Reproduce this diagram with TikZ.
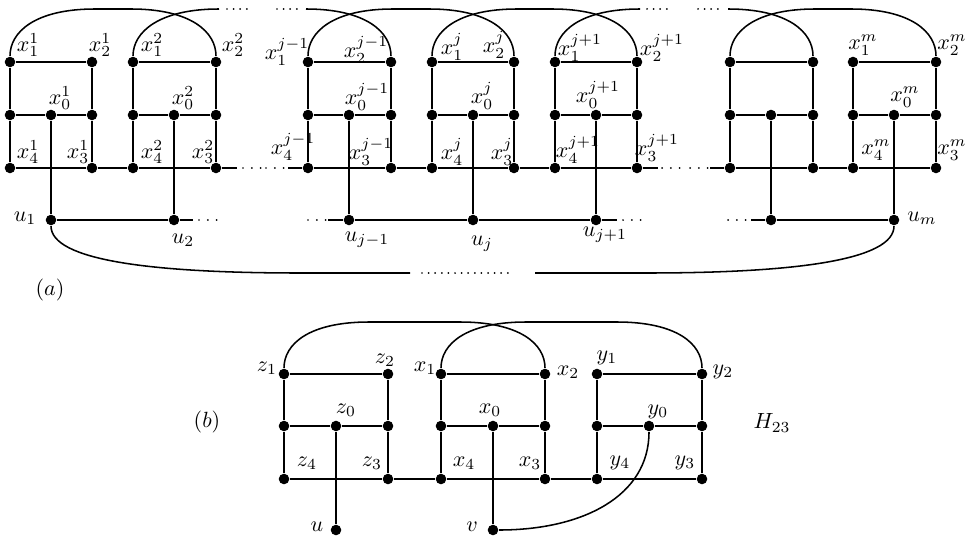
\documentclass[tikz,border=0pt]{standalone}
\begin{document}
\begin{tikzpicture}[x=0.4545pt, y=-0.4545pt, line width=0.7pt,
  dot/.style={circle, fill, inner sep=0pt, minimum size=4.8pt},
  lab/.style={inner sep=0pt},
  dotsA/.style={line cap=round, dash pattern=on 0pt off 3pt, line width=0.9pt},
  dotsB/.style={line cap=round, dash pattern=on 0pt off 4pt, line width=0.9pt}]
\useasboundingbox (0,0) rectangle (972,536);

% ---------------- (a) ----------------
\foreach \g/\L/\M/\R in {1/10/51/92, 2/133/174/216, 3/308/349/391, 4/432/473/514, 5/555/596/637, 6/730/771/813, 7/853/894/936} {
  \node[dot] (a1g\g) at (\L,62) {};
  \node[dot] (a2g\g) at (\R,62) {};
  \node[dot] (aLg\g) at (\L,115) {};
  \node[dot] (a0g\g) at (\M,115) {};
  \node[dot] (aRg\g) at (\R,115) {};
  \node[dot] (a4g\g) at (\L,168) {};
  \node[dot] (a3g\g) at (\R,168) {};
  \node[dot] (ug\g) at (\M,220) {};
  \draw (a1g\g) -- (a2g\g);
  \draw (a1g\g) -- (aLg\g) -- (a4g\g);
  \draw (a2g\g) -- (aRg\g) -- (a3g\g);
  \draw (aLg\g) -- (a0g\g) -- (aRg\g);
  \draw (a0g\g) -- (ug\g);
  \draw (a4g\g) -- (a3g\g);
}
% bottom row
\coordinate (b1) at (237,168);
\coordinate (b2) at (288,168);
\coordinate (b3) at (658,168);
\coordinate (b4) at (710,168);
\draw (a3g1) -- (a4g2);
\draw (a3g2) -- (b1);
\draw (b2) -- (a4g3);
\draw (a3g3) -- (a4g4);
\draw (a3g4) -- (a4g5);
\draw (a3g5) -- (b3);
\draw (b4) -- (a4g6);
\draw (a3g6) -- (a4g7);
\draw[dotsB] (243,168) -- (261,168);
\draw[dotsB] (266,168) -- (284,168);
\draw[dotsB] (662,168) -- (680,168);
\draw[dotsB] (690,168) -- (708,168);
% u row
\coordinate (c1) at (193,220);
\coordinate (c2) at (328,220);
\coordinate (c3) at (617,220);
\coordinate (c4) at (751,220);
\draw (ug1) -- (ug2) -- (c1);
\draw (c2) -- (ug3) -- (ug4) -- (ug5) -- (c3);
\draw (c4) -- (ug6) -- (ug7);
\draw[dotsB] (199,220) -- (217,220);
\draw[dotsB] (308,220) -- (326,220);
\draw[dotsB] (623,220) -- (641,220);
\draw[dotsB] (728,220) -- (746,220);
% top arcs
\coordinate (t1) at (219,9);
\coordinate (t2) at (306,9);
\coordinate (t3) at (640,9);
\coordinate (t4) at (728,9);
\draw (a1g1) .. controls +(0,-30) and +(-60,0) .. (95,9) -- (131,9) .. controls +(60,0) and +(0,-30) .. (a2g2);
\draw (a1g2) .. controls +(0,-30) and +(-60,0) .. (t1);
\draw[dotsA] (227,9) -- (248,9);
\draw[dotsA] (277,9) -- (298,9);
\draw (t2) .. controls +(60,0) and +(0,-30) .. (a2g3);
\draw (a1g3) .. controls +(0,-30) and +(-60,0) .. (393,9) -- (429,9) .. controls +(60,0) and +(0,-30) .. (a2g4);
\draw (a1g4) .. controls +(0,-30) and +(-60,0) .. (517,9) -- (552,9) .. controls +(60,0) and +(0,-30) .. (a2g5);
\draw (a1g5) .. controls +(0,-30) and +(-60,0) .. (t3);
\draw[dotsA] (647,9) -- (668,9);
\draw[dotsA] (698,9) -- (719,9);
\draw (t4) .. controls +(60,0) and +(0,-30) .. (a2g6);
\draw (a1g6) .. controls +(0,-30) and +(-60,0) .. (815,9) -- (851,9) .. controls +(60,0) and +(0,-30) .. (a2g7);
% long bottom curve
\coordinate (d1) at (410,273);
\coordinate (d2) at (535,273);
\draw (ug1) .. controls +(0,40) and +(-150,0) .. (300,273) -- (d1);
\draw[dotsA] (422,273) -- (514,273);
\draw (d2) -- (646,273) .. controls +(150,0) and +(0,40) .. (ug7);

% labels (a)
\node[lab] (l11) at (28,45) {$x_1^1$};
\node[lab] (l12) at (100,45) {$x_2^1$};
\node[lab] (l10) at (60,98) {$x_0^1$};
\node[lab] (l14) at (28,152) {$x_4^1$};
\node[lab] (l13) at (78,152) {$x_3^1$};
\node[lab] (l21) at (152,45) {$x_1^2$};
\node[lab] (l22) at (233,45) {$x_2^2$};
\node[lab] (l20) at (183,98) {$x_0^2$};
\node[lab] (l24) at (152,152) {$x_4^2$};
\node[lab] (l23) at (203,152) {$x_3^2$};
\node[lab] (l31) at (287,52) {$x_1^{j-1}$};
\node[lab] (l32) at (366,50) {$x_2^{j-1}$};
\node[lab] (l30) at (367,97) {$x_0^{j-1}$};
\node[lab] (l34) at (293,147) {$x_4^{j-1}$};
\node[lab] (l33) at (371,152) {$x_3^{j-1}$};
\node[lab] (l41) at (452,47) {$x_1^j$};
\node[lab] (l42) at (494,45) {$x_2^j$};
\node[lab] (l40) at (482,96) {$x_0^j$};
\node[lab] (l44) at (452,152) {$x_4^j$};
\node[lab] (l43) at (502,152) {$x_3^j$};
\node[lab] (l51) at (580,48) {$x_1^{j+1}$};
\node[lab] (l52) at (662,48) {$x_2^{j+1}$};
\node[lab] (l50) at (598,95) {$x_0^{j+1}$};
\node[lab] (l54) at (578,150) {$x_4^{j+1}$};
\node[lab] (l53) at (657,148) {$x_3^{j+1}$};
\node[lab] (l71) at (863,45) {$x_1^m$};
\node[lab] (l72) at (952,45) {$x_2^m$};
\node[lab] (l70) at (905,97) {$x_0^m$};
\node[lab] (l74) at (876,150) {$x_4^m$};
\node[lab] (l73) at (952,150) {$x_3^m$};
\node[lab] (lu1) at (25,218) {$u_1$};
\node[lab] (lu2) at (183,240) {$u_2$};
\node[lab] (lu3) at (367,240) {$u_{j-1}$};
\node[lab] (lu4) at (482,244) {$u_j$};
\node[lab] (lu5) at (605,235) {$u_{j+1}$};
\node[lab] (lu7) at (922,218) {$u_m$};
\node[lab] (capa) at (50,290) {$(a)$};

% ---------------- (b) ----------------
\foreach \g/\L/\M/\R in {z/284/336/388, x/441/493/545, y/597/649/702} {
  \node[dot] (\g1) at (\L,374) {};
  \node[dot] (\g2) at (\R,374) {};
  \node[dot] (\g L) at (\L,426) {};
  \node[dot] (\g0) at (\M,426) {};
  \node[dot] (\g R) at (\R,426) {};
  \node[dot] (\g4) at (\L,479) {};
  \node[dot] (\g3) at (\R,479) {};
  \draw (\g1) -- (\g2);
  \draw (\g1) -- (\g L) -- (\g4);
  \draw (\g2) -- (\g R) -- (\g3);
  \draw (\g L) -- (\g0) -- (\g R);
  \draw (\g4) -- (\g3);
}
\node[dot] (u) at (336,530) {};
\node[dot] (v) at (493,530) {};
\draw (z0) -- (u);
\draw (x0) -- (v);
\draw (y0) .. controls +(0,70) and +(90,0) .. (v);
\draw (z3) -- (x4);
\draw (x3) -- (y4);
\draw (z1) .. controls +(0,-30) and +(-60,0) .. (369,322) -- (460,322) .. controls +(60,0) and +(0,-30) .. (x2);
\draw (x1) .. controls +(0,-30) and +(-60,0) .. (526,322) -- (617,322) .. controls +(60,0) and +(0,-30) .. (y2);

% labels (b)
\node[lab] (lz1) at (267,368) {$z_1$};
\node[lab] (lz2) at (385,360) {$z_2$};
\node[lab] (lz0) at (346,410) {$z_0$};
\node[lab] (lz4) at (307,463) {$z_4$};
\node[lab] (lz3) at (372,463) {$z_3$};
\node[lab] (lx1) at (425,368) {$x_1$};
\node[lab] (lx2) at (568,372) {$x_2$};
\node[lab] (lx0) at (490,410) {$x_0$};
\node[lab] (lx4) at (464,463) {$x_4$};
\node[lab] (lx3) at (530,463) {$x_3$};
\node[lab] (ly1) at (607,358) {$y_1$};
\node[lab] (ly2) at (723,372) {$y_2$};
\node[lab] (ly0) at (658,412) {$y_0$};
\node[lab] (ly4) at (620,463) {$y_4$};
\node[lab] (ly3) at (685,463) {$y_3$};
\node[lab] (lu) at (317,527) {$u$};
\node[lab] (lv) at (472,527) {$v$};
\node[lab] (lH) at (772,423) {$H_{23}$};
\node[lab] (capb) at (207,422) {$(b)$};
\end{tikzpicture}
\end{document}
